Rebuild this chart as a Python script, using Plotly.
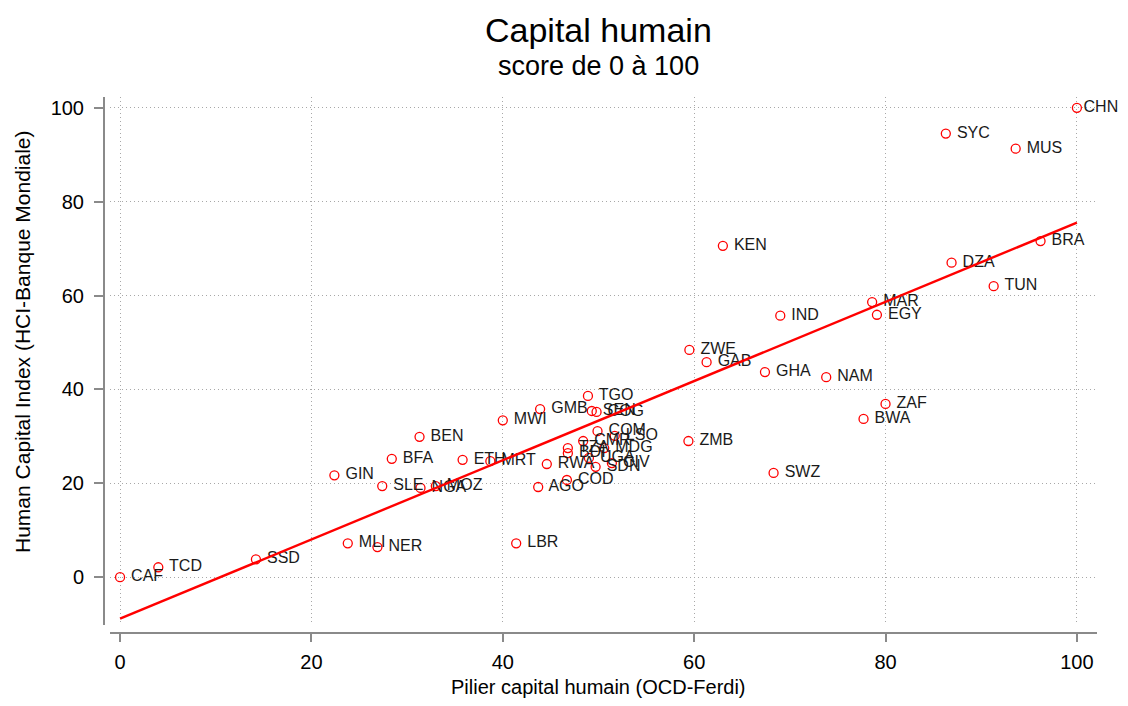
import numpy as np
import plotly.graph_objects as go

codes = ["CAF","TCD","SSD","MLI","NER","GIN","SLE","BFA","BEN","NGA","MOZ","ETH","MRT",
         "MWI","GMB","TGO","SEN","COG","COM","LSO","CMR","MDG","TZA","BDI","UGA","SDN","CIV",
         "RWA","COD","AGO","LBR","ZMB","ZWE","GAB","KEN","GHA","IND","NAM","SWZ","BWA","ZAF",
         "MAR","EGY","DZA","TUN","BRA","SYC","MUS","CHN"]
pilier = [0.0, 4.0, 14.2, 23.8, 26.9, 22.4, 27.4, 28.4, 31.3, 31.4, 33.0, 35.8, 38.7,
          40.0, 43.9, 48.9, 49.3, 49.8, 49.9, 51.7, 48.4, 50.6, 46.8, 46.8, 49.0, 49.7, 51.4,
          44.6, 46.7, 43.7, 41.4, 59.4, 59.5, 61.3, 63.0, 67.4, 69.0, 73.8, 68.3, 77.7, 80.0,
          78.6, 79.1, 86.9, 91.3, 96.2, 86.3, 93.6, 100.0]
hci = [0.0, 2.1, 3.8, 7.2, 6.4, 21.7, 19.4, 25.2, 29.9, 19.0, 19.4, 25.0, 24.7,
       33.4, 35.8, 38.6, 35.4, 35.2, 31.1, 30.1, 29.0, 27.5, 27.5, 26.4, 25.4, 23.5, 24.3,
       24.1, 20.7, 19.2, 7.2, 29.0, 48.4, 45.8, 70.6, 43.7, 55.7, 42.6, 22.2, 33.7, 36.9,
       58.6, 55.9, 67.0, 62.0, 71.6, 94.5, 91.3, 100.0]
ticks = [0, 20, 40, 60, 80, 100]

slope, intercept = np.polyfit(pilier, hci, 1)
fit_x = [min(ticks), max(ticks)]
fit_y = [intercept + slope * v for v in fit_x]

FONT = "Liberation Sans, Arial, sans-serif"

# small leading gap between marker and label (not for the label at the right edge)
labels = [c if x >= max(ticks) else " " + c for c, x in zip(codes, pilier)]

fig = go.Figure()
fig.add_trace(go.Scatter(
    x=pilier, y=hci, mode="markers+text", text=labels,
    textposition="middle right",
    textfont=dict(family=FONT, size=16, color="#1a1a1a"),
    marker=dict(symbol="circle-open", size=9, color="#ff0000", line=dict(width=1.3, color="#ff0000")),
    showlegend=False, cliponaxis=False))
fig.add_trace(go.Scatter(x=fit_x, y=fit_y, mode="lines",
                         line=dict(color="#ff0000", width=2.4), showlegend=False))

OFF = 8  # page body margin
W, H = 1128 - 2 * OFF, 706 - 2 * OFF
ml, mr, mt, mb = 72, 15, 82, 52
pw, ph = W - ml - mr, H - mt - mb
def px_x(p):
    return (p - OFF - ml) / pw
def px_y(p):
    return (H - mb - (p - OFF)) / ph

grid = dict(showgrid=True, gridcolor="#a8a8a8", griddash="1px,3px", gridwidth=1,
            zeroline=False, showline=True, linecolor="#8a8a8a", linewidth=2,
            anchor="free", automargin=False, ticks="outside", tickcolor="#8a8a8a",
            tickwidth=1.5, tickfont=dict(size=20, family=FONT, color="#000"))

fig.update_layout(
    width=W, height=H, margin=dict(l=ml, r=mr, t=mt, b=mb, autoexpand=False),
    paper_bgcolor="white", plot_bgcolor="white",
    font=dict(family=FONT, color="#000000"),
    xaxis=dict(domain=[px_x(110), px_x(1097)], range=[-1.05, 102.1], tickvals=ticks,
               position=px_y(633), ticklen=8, ticklabelstandoff=3, **grid),
    yaxis=dict(domain=[px_y(625), px_y(97)], range=[-10.2, 102.3], tickvals=ticks,
               position=px_x(104), ticklen=9, ticklabelstandoff=6, **grid),
    annotations=[
        dict(text="Capital humain", x=px_x(598), y=px_y(30), xref="paper", yref="paper",
             xanchor="center", yanchor="middle",
             showarrow=False, font=dict(size=34, family=FONT, color="#000")),
        dict(text="score de 0 à 100", x=px_x(598), y=px_y(66), xref="paper", yref="paper",
             xanchor="center", yanchor="middle",
             showarrow=False, font=dict(size=27, family=FONT, color="#000")),
        dict(text="Pilier capital humain (OCD-Ferdi)", x=px_x(598), y=px_y(687),
             xref="paper", yref="paper", showarrow=False, xanchor="center", yanchor="middle",
             font=dict(size=20, family=FONT, color="#000")),
        dict(text="Human Capital Index (HCI-Banque Mondiale)", x=px_x(22), y=px_y(342),
             xref="paper", yref="paper", showarrow=False, textangle=-90,
             xanchor="center", yanchor="middle",
             font=dict(size=21, family=FONT, color="#000")),
    ],
)

fig.write_html("out.html")
